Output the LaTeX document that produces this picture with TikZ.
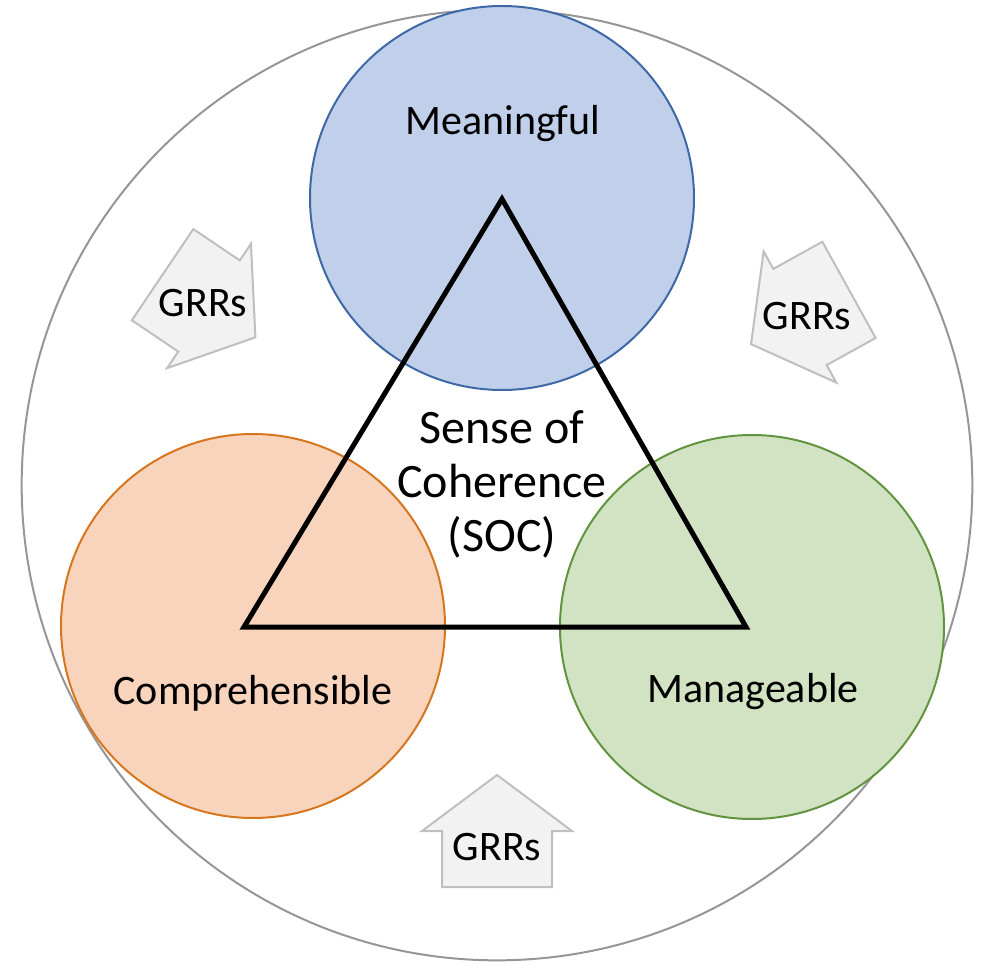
\documentclass[tikz,border=0pt]{standalone}
\usepackage{fontspec}
\setmainfont{Carlito}
\definecolor{outergray}{RGB}{150,150,150}
\definecolor{meanfill}{RGB}{193,208,234}
\definecolor{meandraw}{RGB}{62,104,166}
\definecolor{compfill}{RGB}{248,212,188}
\definecolor{compdraw}{RGB}{214,118,30}
\definecolor{managefill}{RGB}{209,227,195}
\definecolor{managedraw}{RGB}{98,148,64}
\definecolor{grrfill}{RGB}{242,242,242}
\definecolor{grrdraw}{RGB}{191,191,191}
\usetikzlibrary{positioning}

\begin{document}
\begin{tikzpicture}[x=0.75pt,y=0.75pt,yscale=-1,xscale=1,
	label text/.style={font=\fontsize{31.5}{40.5}\selectfont, inner sep=0pt, anchor=base},
	dim circle/.style={circle, draw, line width=1.5pt, minimum size=288pt, inner sep=0pt},
	grr arrow/.style={fill=grrfill, draw=grrdraw, line width=1.5pt},
	grr/.pic={\draw[grr arrow] (-55,-56) -- (-55,0) -- (-75,0) -- (0,56) -- (75,0) -- (55,0) -- (55,-56) -- cycle;}
	]
	\useasboundingbox (0,0) rectangle (993,966);
	
	%Shape: Circle [outer]
	\node[circle, draw=outergray, line width=1.5pt, minimum size=713pt, inner sep=0pt] (whole) at (497,485) {};
	%Shape: Circle [dimensions]
	\node[dim circle, fill=meanfill, draw=meandraw] (mean) at (502,198) {};
	\node[dim circle, fill=compfill, draw=compdraw] (comp) at (253,626) {};
	\node[dim circle, fill=managefill, draw=managedraw] (manage) at (752,627) {};
	
	%Shape: Triangle
	\coordinate (socTop) at (502,199);
	\coordinate (socLeft) at (244,627);
	\coordinate (socRight) at (746,627);
	\draw[line width=3.75pt] (socTop) -- (socLeft) -- (socRight) -- cycle;
	
	%Shape: Up Arrows
	\pic[rotate=-124] at (209,306) {grr};
	\pic[rotate=119] at (800,317) {grr};
	\pic at (497,831) {grr};
	
	% Text Node
	\node[label text] (meantext) at (503,135) {Meaningful};
	% Text Node
	\node[label text] (comptext) at (253,704) {Comprehensible};
	% Text Node
	\node[label text] (managetext) at (753,702) {Manageable};
	% Text Node
	\node[label text, font=\fontsize{36}{40.5}\selectfont, anchor=center, align=center] (soc) at (502,484) {Sense of\\Coherence\\(SOC)};
	% Text Node
	\node[label text] (grrleft) at (203,317) {GRRs};
	% Text Node
	\node[label text] (grrright) at (807,330) {GRRs};
	% Text Node
	\node[label text] (grrbottom) at (497,860) {GRRs};
	
\end{tikzpicture}
\end{document}
